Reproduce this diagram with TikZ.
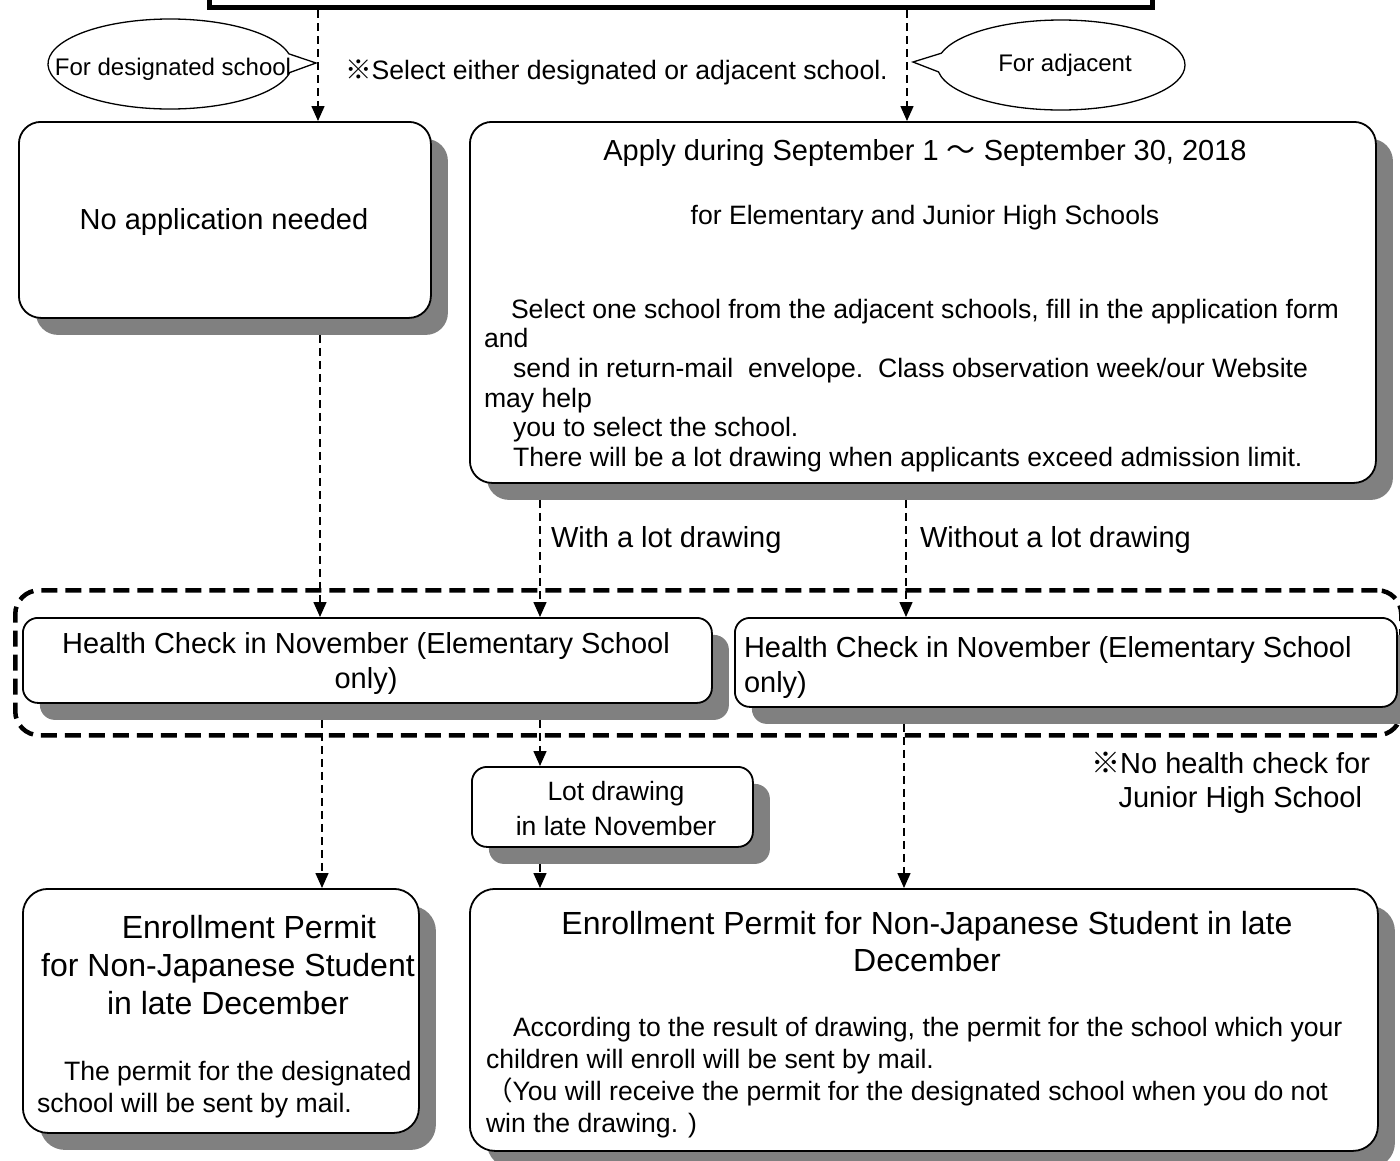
\documentclass[tikz,border=0pt]{standalone}
\usepackage{fontspec}
\setmainfont{Liberation Sans}
\newfontfamily\cjk{Noto Sans CJK JP}
\usetikzlibrary{shadows,shapes.callouts,arrows.meta}
\definecolor{shgray}{RGB}{128,128,128}
\tikzset{
  box/.style={draw, line width=1.8pt, fill=white, rounded corners=#1, inner sep=0pt,
    drop shadow={shadow xshift=17pt, shadow yshift=-17pt, opacity=1, fill=shgray}},
  flow/.style={line width=1.5pt, dash pattern=on 8pt off 5pt,
    -{Triangle[length=15pt,width=13pt]}},
  grpbox/.style={draw, line width=4.5pt, dash pattern=on 16pt off 8pt, rounded corners=24pt, inner sep=0pt},
  bubble/.style={ellipse callout, draw, line width=1.3pt, fill=white, inner sep=0pt, callout pointer arc=24},
  txt/.style={inner sep=0pt, outer sep=0pt},
  f24/.style={font=\fontsize{24pt}{28pt}\selectfont},
  f26/.style={font=\fontsize{26.6pt}{29.6pt}\selectfont},
  f26b/.style={font=\fontsize{26.6pt}{32pt}\selectfont},
  f29/.style={font=\fontsize{29pt}{35pt}\selectfont},
  f32/.style={font=\fontsize{32pt}{37.5pt}\selectfont},
}
\begin{document}
\begin{tikzpicture}[x=1pt,y=-1pt]
\useasboundingbox (0,0) rectangle (1400,1160);

% top box (cut off by the page edge)
\node[draw, line width=5pt, minimum width=943pt, minimum height=60pt, anchor=south west, inner sep=0pt] (top) at (207,10) {};

% callouts
\node[bubble, minimum width=244pt, minimum height=90pt, callout absolute pointer={(316,63)}] (cd) at (170,64)
  {\makebox[0pt]{\fontsize{24pt}{28pt}\selectfont\hspace*{6pt}\raisebox{-11pt}[0pt][0pt]{For designated school}}};
\node[bubble, minimum width=248pt, minimum height=90pt, callout absolute pointer={(913,62)}] (ca) at (1061,65)
  {\makebox[0pt]{\fontsize{24pt}{28pt}\selectfont\hspace*{8pt}For adjacent}};
\node[txt, f26, anchor=base west] (sel) at (345,79) {{\cjk ※}Select either designated or adjacent school.};

% dashed group
\node[grpbox, minimum width=1386pt, minimum height=145pt, anchor=north west] (grp) at (13,588) {};

% boxes
\node[box=22pt, minimum width=412pt, minimum height=196pt, anchor=north west] (noapp) at (18,121) {};
\node[box=22pt, minimum width=906pt, minimum height=361pt, anchor=north west] (apply) at (469,121) {};
\node[box=15pt, minimum width=689pt, minimum height=85pt, anchor=north west] (hc1) at (22,617) {};
\node[box=15pt, minimum width=662pt, minimum height=89pt, anchor=north west] (hc2) at (734,617) {};
\node[box=15pt, minimum width=281pt, minimum height=80pt, anchor=north west] (lot) at (471,766) {};
\node[box=25pt, minimum width=396pt, minimum height=244pt, anchor=north west] (enr1) at (22,888) {};
\node[box=25pt, minimum width=908pt, minimum height=262pt, anchor=north west] (enr2) at (469,888) {};

% texts
\node[txt, f29, anchor=base] (tnoapp) at (224,229) {No application needed};
\node[txt, f29, anchor=base] (tapply) at (925,160) {Apply during September 1 {\cjk ～} September 30, 2018};
\node[txt, f26, anchor=base] (telem) at (925,224) {for Elementary and Junior High Schools};
\node[txt, f26, anchor=north west, align=left] (tpara) at (484,299) {%
\hspace*{27pt}Select one school from the adjacent schools, fill in the application form\\
and\\
\hspace*{29pt}send in return-mail\ \ envelope.\ \ Class observation week/our Website\\
may help\\
\hspace*{29pt}you to select the school.\\
\hspace*{29pt}There will be a lot drawing when applicants exceed admission limit.};

\node[txt, f29, anchor=base west] (lwith) at (551,547) {With a lot drawing};
\node[txt, f29, anchor=base west] (lwithout) at (920,547) {Without a lot drawing};

\node[txt, f29, anchor=north, align=center] (thc1) at (366,632) {Health Check in November (Elementary School\\only)};
\node[txt, f29, anchor=north west, align=left] (thc2) at (744,636) {Health Check in November (Elementary School\\only)};
\node[txt, font=\fontsize{29pt}{34pt}\selectfont, anchor=north east, align=right] (tnojr) at (1370,752) {{\cjk ※}No health check for\\Junior High School\hspace*{8pt}};

\node[txt, font=\fontsize{26.5pt}{35pt}\selectfont, anchor=north, align=center] (tlot) at (616,781) {Lot drawing\\in late November};

\node[txt, font=\fontsize{32pt}{38pt}\selectfont, anchor=north, align=center] (tenr1) at (228,915) {\hspace*{42pt}Enrollment Permit\\for Non-Japanese Student\\in late December};
\node[txt, f26b, anchor=north west, align=left] (tenr1p) at (37,1061) {\hspace*{27pt}The permit for the designated\\school will be sent by mail.};
\node[txt, f32, anchor=north, align=center] (tenr2) at (927,911) {Enrollment Permit for Non-Japanese Student in late\\December};
\node[txt, f26b, anchor=north west, align=left] (tenr2p) at (486,1017) {%
\hspace*{27pt}According to the result of drawing, the permit for the school which your\\
children will enroll will be sent by mail.\\
{\cjk （}You will receive the permit for the designated school when you do not\\
win the drawing. )};

% connector x positions
\coordinate (xa) at (318,0);
\coordinate (xb) at (907,0);
\coordinate (xc) at (320,0);
\coordinate (xd) at (540,0);
\coordinate (xe) at (906,0);
\coordinate (xf) at (322,0);
\coordinate (xg) at (904,0);

\draw[flow] (top.south -| xa) -- (noapp.north -| xa);
\draw[flow] (top.south -| xb) -- (apply.north -| xb);
\draw[flow, shorten <=16pt] (noapp.south -| xc) -- (hc1.north -| xc);
\draw[flow, shorten <=16pt] (apply.south -| xd) -- (hc1.north -| xd);
\draw[flow, shorten <=16pt] (apply.south -| xe) -- (hc2.north -| xe);
\draw[flow, shorten <=16pt] (hc1.south -| xf) -- (enr1.north -| xf);
\draw[flow, shorten <=16pt] (hc1.south -| xd) -- (lot.north -| xd);
\draw[flow, shorten <=16pt] (hc2.south -| xg) -- (enr2.north -| xg);
\draw[flow, shorten <=16pt] (lot.south -| xd) -- (enr2.north -| xd);
\end{tikzpicture}
\end{document}
